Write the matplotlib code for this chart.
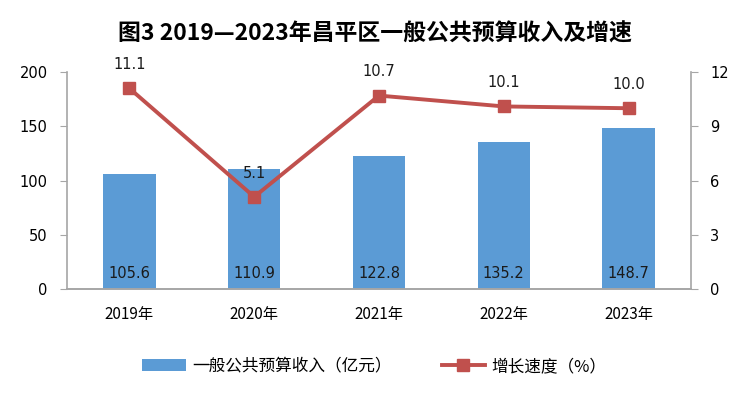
import numpy as np
import matplotlib.pyplot as plt

plt.rcParams['font.family'] = ['Noto Sans CJK SC', 'DejaVu Sans']

# 数据
years = ['2019年', '2020年', '2021年', '2022年', '2023年']
income = [105.6, 110.9, 122.8, 135.2, 148.7]
growth = [11.1, 5.1, 10.7, 10.1, 10.0]

bar_color = '#5B9BD5'
line_color = '#C0504D'
axis_color = '#A6A6A6'
num_font = 'DejaVu Sans'

fig = plt.figure(figsize=(7.49, 3.96), dpi=100)
ax = fig.add_axes([0.0895, 0.270, 0.833, 0.548])
x = np.arange(len(years))

bars = ax.bar(x, income, width=0.42, color=bar_color, label='一般公共预算收入（亿元）')
ax.set_xlim(-0.5, len(years) - 0.5)
ax.set_ylim(0, 200)
ax.set_yticks([0, 50, 100, 150, 200])
ax.set_xticks(x)
ax.set_xticklabels(years, fontsize=11)
ax.tick_params(axis='y', labelsize=10.5, length=5, color=axis_color, pad=9)
ax.tick_params(axis='x', length=0, pad=12)
for t in ax.get_yticklabels():
    t.set_family(num_font)

for b, v in zip(bars, income):
    ax.text(b.get_x() + b.get_width() / 2, 7, f'{v:.1f}', ha='center', va='bottom',
            fontsize=10.5, color='#1a1a1a', family=num_font)

ax2 = ax.twinx()
ax2.plot(x, growth, color=line_color, linewidth=2.8, marker='s', markersize=8,
         label='增长速度（%）')
ax2.set_ylim(0, 12)
ax2.set_yticks([0, 3, 6, 9, 12])
ax2.tick_params(axis='y', labelsize=10.5, length=5, color=axis_color, pad=9)
for t in ax2.get_yticklabels():
    t.set_family(num_font)

for xi, v in zip(x, growth):
    ax2.text(xi, v + 0.9, f'{v:.1f}', ha='center', va='bottom', fontsize=10.5,
             color='#1a1a1a', family=num_font)

for a in (ax, ax2):
    a.spines['top'].set_visible(False)
    for s in ('left', 'right', 'bottom'):
        a.spines[s].set_color(axis_color)
        a.spines[s].set_linewidth(1.2)
ax.spines['right'].set_visible(False)
ax2.spines['left'].set_visible(False)

fig.text(0.5, 0.915, '图3 2019—2023年昌平区一般公共预算收入及增速', ha='center', va='center',
         fontsize=16.5, fontweight='bold')

h1, l1 = ax.get_legend_handles_labels()
h2, l2 = ax2.get_legend_handles_labels()
fig.legend(h1 + h2, l1 + l2, loc='center', bbox_to_anchor=(0.5, 0.075), ncol=2,
           frameon=False, fontsize=12, columnspacing=3, handlelength=2.6, handletextpad=0.4)

plt.savefig('out.png', dpi=100)
